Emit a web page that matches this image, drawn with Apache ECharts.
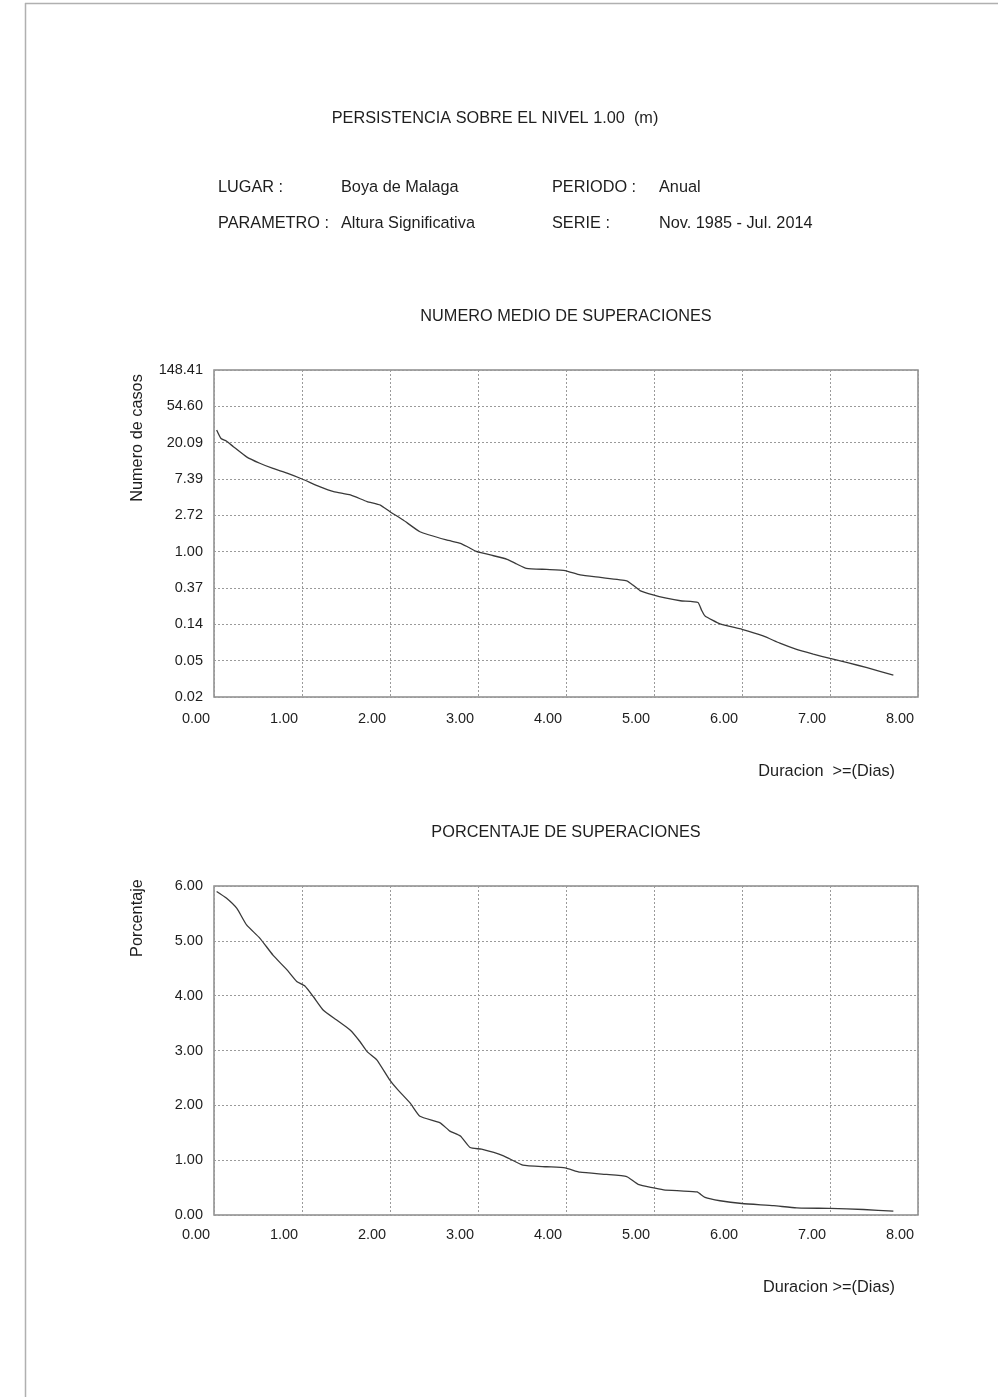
<!DOCTYPE html>
<html>
<head>
<meta charset="utf-8">
<title>Persistencia sobre el nivel 1.00 m</title>
<script src="https://cdn.jsdelivr.net/npm/echarts@6/dist/echarts.min.js"></script>
<style>
  html, body { margin: 0; padding: 0; background: #fff; }
  #chart { width: 998px; height: 1397px; }
</style>
</head>
<body>
<div id="chart"></div>
<script>
// Duración (días) del número medio de superaciones
const durCasos = [0.03, 0.08, 0.14, 0.22, 0.37, 0.52, 0.67, 0.83, 1.00, 1.20, 1.36, 1.55, 1.74, 1.89, 2.00, 2.15, 2.34, 2.64, 2.80, 2.89, 2.98, 3.14, 3.33, 3.44, 3.55, 3.78, 3.99, 4.16, 4.39, 4.69, 4.76, 4.84, 4.99, 5.14, 5.30, 5.50, 5.54, 5.58, 5.75, 6.00, 6.24, 6.43, 6.62, 6.81, 7.00, 7.21, 7.42, 7.72];
// Número medio de casos (escala logarítmica natural)
const numCasos = [28.5, 22.5, 21.0, 18.0, 13.6, 11.4, 9.87, 8.67, 7.39, 5.99, 5.21, 4.76, 3.97, 3.60, 3.00, 2.39, 1.73, 1.38, 1.26, 1.13, 1.01, 0.914, 0.811, 0.712, 0.631, 0.613, 0.595, 0.527, 0.492, 0.449, 0.399, 0.343, 0.304, 0.278, 0.259, 0.247, 0.200, 0.170, 0.137, 0.118, 0.0983, 0.0805, 0.0679, 0.0596, 0.0529, 0.0468, 0.0411, 0.0334];

// Duración (días) del porcentaje de superaciones
const durPorc = [0.03, 0.14, 0.26, 0.37, 0.52, 0.67, 0.83, 0.94, 1.03, 1.13, 1.24, 1.39, 1.55, 1.66, 1.74, 1.85, 1.99, 2.08, 2.23, 2.34, 2.57, 2.68, 2.80, 2.91, 3.04, 3.29, 3.51, 3.78, 3.99, 4.16, 4.46, 4.69, 4.82, 5.11, 5.30, 5.49, 5.58, 5.75, 6.00, 6.36, 6.62, 7.00, 7.38, 7.72];
// Porcentaje de tiempo
const porcentaje = [5.90, 5.78, 5.59, 5.29, 5.05, 4.74, 4.47, 4.26, 4.18, 3.98, 3.74, 3.56, 3.37, 3.16, 2.98, 2.83, 2.48, 2.30, 2.04, 1.80, 1.68, 1.53, 1.44, 1.23, 1.20, 1.08, 0.91, 0.88, 0.86, 0.78, 0.74, 0.70, 0.56, 0.46, 0.44, 0.42, 0.32, 0.26, 0.21, 0.17, 0.13, 0.12, 0.10, 0.07];

// Etiquetas de texto
const tituloGeneral = 'PERSISTENCIA SOBRE EL NIVEL 1.00  (m)';
const camposCabecera = [
  ['LUGAR :', 'Boya de Malaga', 'PERIODO :', 'Anual'],
  ['PARAMETRO :', 'Altura Significativa', 'SERIE :', 'Nov. 1985 - Jul. 2014']
];
const tituloCasos = 'NUMERO MEDIO DE SUPERACIONES';
const tituloPorc = 'PORCENTAJE DE SUPERACIONES';
const nombreEjeCasos = 'Numero de casos';
const nombreEjePorc = 'Porcentaje';
const nombreEjeX1 = 'Duracion  >=(Dias)';
const nombreEjeX2 = 'Duracion >=(Dias)';

const FONT = '"Liberation Sans", Arial, sans-serif';
const TXT = '#1e1e1e';
const GRIDLINE = { show: true, lineStyle: { color: '#9a9a9a', width: 1, type: [2, 2] } };

const chart = echarts.init(document.getElementById('chart'), null, { renderer: 'canvas' });

function xAxisDef(gridIndex, margin) {
  return {
    gridIndex, type: 'value', min: 0, max: 8, interval: 1,
    axisLine: { show: false }, axisTick: { show: false },
    splitLine: GRIDLINE,
    axisLabel: {
      formatter: v => v.toFixed(2), color: TXT, fontFamily: FONT, fontSize: 14.5,
      margin, padding: [0, 36, 0, 0]
    }
  };
}

function textEl(x, y, text, opts) {
  return {
    type: 'text', x, y,
    style: Object.assign({ text, fill: TXT, font: '16.3px ' + FONT, textVerticalAlign: 'middle' }, opts || {})
  };
}

const graphics = [
  // marco de la hoja
  { type: 'line', shape: { x1: 25, y1: 3.5, x2: 998, y2: 3.5 }, style: { stroke: '#b0b0b0', lineWidth: 1.5 } },
  { type: 'line', shape: { x1: 25.5, y1: 3, x2: 25.5, y2: 1397 }, style: { stroke: '#b0b0b0', lineWidth: 1.5 } },
  textEl(495, 119, tituloGeneral, { textAlign: 'center' }),
  textEl(566, 317, tituloCasos, { textAlign: 'center' }),
  textEl(566, 833, tituloPorc, { textAlign: 'center' }),
  textEl(895, 772, nombreEjeX1, { textAlign: 'right' }),
  textEl(895, 1288, nombreEjeX2, { textAlign: 'right' }),
  { type: 'text', x: 138, y: 438, rotation: Math.PI / 2,
    style: { text: nombreEjeCasos, fill: TXT, font: '16.3px ' + FONT, textAlign: 'center', textVerticalAlign: 'middle' } },
  { type: 'text', x: 138, y: 918, rotation: Math.PI / 2,
    style: { text: nombreEjePorc, fill: TXT, font: '16.3px ' + FONT, textAlign: 'center', textVerticalAlign: 'middle' } }
];
const colX = [218, 341, 552, 659];
const rowY = [188, 224];
camposCabecera.forEach((fila, i) => fila.forEach((t, j) => graphics.push(textEl(colX[j], rowY[i], t))));

chart.setOption({
  backgroundColor: '#fff',
  animation: false,
  grid: [
    { left: 214, top: 370, width: 704, height: 327, show: true, borderColor: '#8a8a8a', borderWidth: 1.5, backgroundColor: 'transparent' },
    { left: 214, top: 886, width: 704, height: 329, show: true, borderColor: '#8a8a8a', borderWidth: 1.5, backgroundColor: 'transparent' }
  ],
  xAxis: [xAxisDef(0, 14), xAxisDef(1, 12)],
  yAxis: [
    {
      gridIndex: 0, type: 'value', min: -4, max: 5, interval: 1,
      axisLine: { show: false }, axisTick: { show: false },
      splitLine: GRIDLINE,
      axisLabel: {
        formatter: v => Math.exp(v).toFixed(2), color: TXT, fontFamily: FONT, fontSize: 14.5,
        margin: 11, padding: [0, 0, 8, 0]
      }
    },
    {
      gridIndex: 1, type: 'value', min: 0, max: 6, interval: 1,
      axisLine: { show: false }, axisTick: { show: false },
      splitLine: GRIDLINE,
      axisLabel: {
        formatter: v => v.toFixed(2), color: TXT, fontFamily: FONT, fontSize: 14.5,
        margin: 11, padding: [0, 0, 9, 0]
      }
    }
  ],
  series: [
    {
      type: 'line', xAxisIndex: 0, yAxisIndex: 0, symbol: 'none', smooth: 0.15,
      lineStyle: { color: '#3a3a3a', width: 1.3 },
      data: durCasos.map((d, i) => [d, Math.log(numCasos[i])])
    },
    {
      type: 'line', xAxisIndex: 1, yAxisIndex: 1, symbol: 'none', smooth: 0.15,
      lineStyle: { color: '#3a3a3a', width: 1.3 },
      data: durPorc.map((d, i) => [d, porcentaje[i]])
    }
  ],
  graphic: graphics
});
</script>
</body>
</html>
